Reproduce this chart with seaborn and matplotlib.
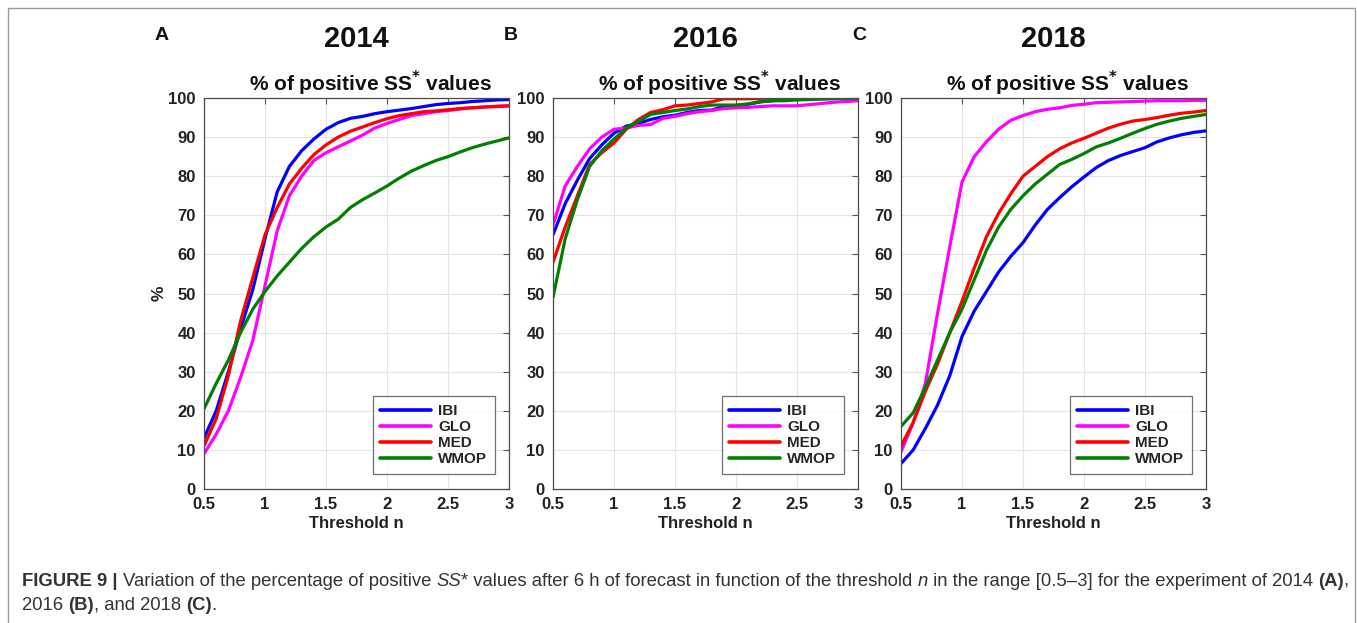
import numpy as np
import pandas as pd
import matplotlib
matplotlib.use("Agg")
import matplotlib.pyplot as plt
from matplotlib.patches import Rectangle
import seaborn as sns

# Threshold values n
thresholds = [0.5, 0.6, 0.7, 0.8, 0.9, 1.0, 1.1, 1.2, 1.3, 1.4, 1.5, 1.6, 1.7,
              1.8, 1.9, 2.0, 2.1, 2.2, 2.3, 2.4, 2.5, 2.6, 2.7, 2.8, 2.9, 3.0]

models = ["IBI", "GLO", "MED", "WMOP"]
model_colors = {"IBI": "#0000ff", "GLO": "#ff00ff", "MED": "#ff0000", "WMOP": "#008000"}

# 2014 experiment (% of positive SS*)
ibi_2014 = [13, 20, 30, 41, 51, 64, 76, 82.5, 86.5, 89.5, 92, 93.7, 94.8, 95.3, 96,
            96.5, 96.9, 97.3, 97.8, 98.3, 98.6, 98.8, 99.1, 99.3, 99.5, 99.6]
glo_2014 = [9, 14, 20, 28.5, 38, 52, 66, 75, 80, 84, 86, 87.5, 89, 90.5, 92.3,
            93.5, 94.5, 95.5, 96, 96.5, 96.8, 97.2, 97.5, 97.7, 97.8, 98]
med_2014 = [11, 18, 29, 43, 54, 65, 72, 78, 82, 85.5, 88, 90, 91.5, 92.6, 93.7,
            94.7, 95.5, 96, 96.5, 96.7, 97, 97.3, 97.5, 97.7, 97.9, 98]
wmop_2014 = [20.5, 27, 33, 40, 46, 50.5, 54.5, 58, 61.5, 64.5, 67, 69, 72, 74, 75.7,
             77.5, 79.5, 81.3, 82.7, 84, 85, 86.2, 87.3, 88.2, 89, 89.8]

# 2016 experiment
ibi_2016 = [65, 73, 79, 84.5, 88, 91, 92.8, 93.5, 94.5, 95.2, 95.6, 96.3, 96.8, 96.9,
            97.8, 98, 98.4, 99, 99.3, 99.5, 99.7, 99.8, 99.9, 100, 100, 100]
glo_2016 = [67.5, 77.5, 82.5, 87, 90, 92, 92.3, 93, 93.2, 94.8, 95.3, 96, 96.5, 96.8,
            97.3, 97.5, 97.6, 97.8, 98, 98, 98, 98.3, 98.6, 98.9, 99.1, 99.3]
med_2016 = [58, 67, 75, 83, 86, 88.5, 92, 94.5, 96.3, 97, 98, 98.2, 98.6, 99, 99.8,
            99.8, 99.8, 99.9, 100, 100, 100, 100, 100, 100, 100, 100]
wmop_2016 = [49, 64, 74, 82.5, 86.5, 89.5, 92.3, 94, 95.8, 96.3, 96.8, 97.2, 97.8,
             98.2, 98.2, 98.2, 98.5, 99.1, 99.3, 99.3, 99.5, 99.6, 99.7, 99.8, 99.9, 100]

# 2018 experiment
ibi_2018 = [6.5, 10, 15.5, 21.5, 29, 39, 45.5, 50.5, 55.5, 59.5, 63, 67.5, 71.5, 74.5,
            77.3, 79.8, 82.2, 84, 85.3, 86.3, 87.3, 88.8, 89.8, 90.6, 91.2, 91.6]
glo_2018 = [9.5, 17, 27, 45, 62, 78.5, 85, 88.8, 92, 94.3, 95.5, 96.5, 97.1, 97.5,
            98.1, 98.4, 98.8, 98.9, 99, 99.1, 99.2, 99.3, 99.3, 99.3, 99.4, 99.4]
med_2018 = [11, 17, 25, 32, 40, 48, 56.5, 64.5, 70.5, 75.5, 80, 82.5, 85, 87, 88.5,
            89.7, 91, 92.3, 93.3, 94.1, 94.5, 95, 95.6, 96.1, 96.4, 96.8]
wmop_2018 = [16, 19.5, 26, 33, 40, 46, 53.5, 61, 67, 71.5, 75, 78, 80.5, 83, 84.3,
             85.8, 87.5, 88.5, 89.7, 91, 92.2, 93.3, 94.1, 94.8, 95.3, 95.8]

years = ["2014", "2016", "2018"]
panel_letters = ["A", "B", "C"]
series = {
    "2014": [ibi_2014, glo_2014, med_2014, wmop_2014],
    "2016": [ibi_2016, glo_2016, med_2016, wmop_2016],
    "2018": [ibi_2018, glo_2018, med_2018, wmop_2018],
}

y_ticks = [0, 10, 20, 30, 40, 50, 60, 70, 80, 90, 100]
x_ticks = [0.5, 1, 1.5, 2, 2.5, 3]
x_ticklabels = ["0.5", "1", "1.5", "2", "2.5", "3"]

rows = []
for year in years:
    for model, vals in zip(models, series[year]):
        for t, v in zip(thresholds, vals):
            rows.append({"year": year, "model": model, "threshold": t, "pct": v})
df = pd.DataFrame(rows)

sns.set_theme(style="white")
plt.rcParams["font.family"] = ["Liberation Sans", "DejaVu Sans"]

W, H = 1357, 623
fig = plt.figure(figsize=(W / 100, H / 100), dpi=100)

# outer frame around the figure
fig.patches.append(Rectangle((8 / W, -0.01), (1355 - 8) / W, 1 - 8 / H + 0.01,
                             transform=fig.transFigure, fill=False,
                             edgecolor="#9a9a9a", linewidth=1.0))

ax_left_px = [204, 553, 901]
ax_w_px = 305
ax_top_px, ax_bot_px = 98, 489
ax_h_px = ax_bot_px - ax_top_px

for i, year in enumerate(years):
    l = ax_left_px[i] / W
    b = 1 - ax_bot_px / H
    ax = fig.add_axes([l, b, ax_w_px / W, ax_h_px / H])
    sub = df[df["year"] == year]
    sns.lineplot(data=sub, x="threshold", y="pct", hue="model", hue_order=models,
                 palette=model_colors, linewidth=2.3, ax=ax, legend=True)
    ax.set_xlim(0.5, 3)
    ax.set_ylim(0, 100)
    ax.set_xticks(x_ticks)
    ax.set_xticklabels(x_ticklabels)
    ax.set_yticks(y_ticks)
    ax.grid(True, color="#e3e3e3", linewidth=0.8)
    ax.tick_params(direction="in", length=4, width=0.8, colors="#555555",
                   top=True, right=True, labelsize=12, pad=6,
                   labelcolor="#222222")
    for lab in ax.get_xticklabels() + ax.get_yticklabels():
        lab.set_fontweight("bold")
    for s in ax.spines.values():
        s.set_color("#4d4d4d")
        s.set_linewidth(0.9)
    ax.set_xlabel("Threshold n", fontsize=12, fontweight="bold", color="#222222",
                  labelpad=3)
    if i == 0:
        ax.set_ylabel("%", fontsize=12.5, fontweight="bold", color="#222222", labelpad=1)
    else:
        ax.set_ylabel("")
    ax.text(0.545, 1 + 7 / ax_h_px, r"% of positive SS$^{\mathbf{*}}$ values",
            transform=ax.transAxes, ha="center", va="baseline", fontsize=15,
            fontweight="bold", color="#111111")
    cx = (ax_left_px[i] + ax_w_px / 2) / W
    fig.text(cx, 1 - 39 / H, year, ha="center", va="center", fontsize=21,
             fontweight="bold", color="#111111")
    fig.text((ax_left_px[i] - 42) / W, 1 - 36 / H, panel_letters[i], ha="center",
             va="center", fontsize=14, fontweight="bold", color="#111111")
    leg = ax.legend(loc="lower right", bbox_to_anchor=(1 - 14 / ax_w_px, 15 / ax_h_px),
                    borderaxespad=0, frameon=True, fancybox=False, handlelength=3.3,
                    borderpad=0.5, labelspacing=0.14, handletextpad=0.5,
                    prop={"weight": "bold", "size": 11})
    leg.get_frame().set_edgecolor("#4d4d4d")
    leg.get_frame().set_linewidth(0.9)
    for h in leg.get_lines():
        h.set_linewidth(2.6)

# caption built from styled pieces
renderer = fig.canvas.get_renderer()
cap_size = 13.3
cap_color = "#333333"

def draw_line(pieces, x0_px, y_px):
    x = x0_px / W
    for txt, weight, style in pieces:
        t = fig.text(x, 1 - y_px / H, txt, ha="left", va="center", fontsize=cap_size,
                     fontweight=weight, fontstyle=style, color=cap_color)
        bb = t.get_window_extent(renderer=renderer)
        x += bb.width / W

line1 = [("FIGURE 9 | ", "bold", "normal"),
         ("Variation of the percentage of positive ", "normal", "normal"),
         ("SS", "normal", "italic"),
         ("* values after 6 h of forecast in function of the threshold ", "normal", "normal"),
         ("n", "normal", "italic"),
         (" in the range [0.5\u20133] for the experiment of 2014 ", "normal", "normal"),
         ("(A)", "bold", "normal"),
         (",", "normal", "normal")]
line2 = [("2016 ", "normal", "normal"),
         ("(B)", "bold", "normal"),
         (", and 2018 ", "normal", "normal"),
         ("(C)", "bold", "normal"),
         (".", "normal", "normal")]
draw_line(line1, 22, 581)
draw_line(line2, 22, 605)

fig.savefig("out.png", dpi=100)
